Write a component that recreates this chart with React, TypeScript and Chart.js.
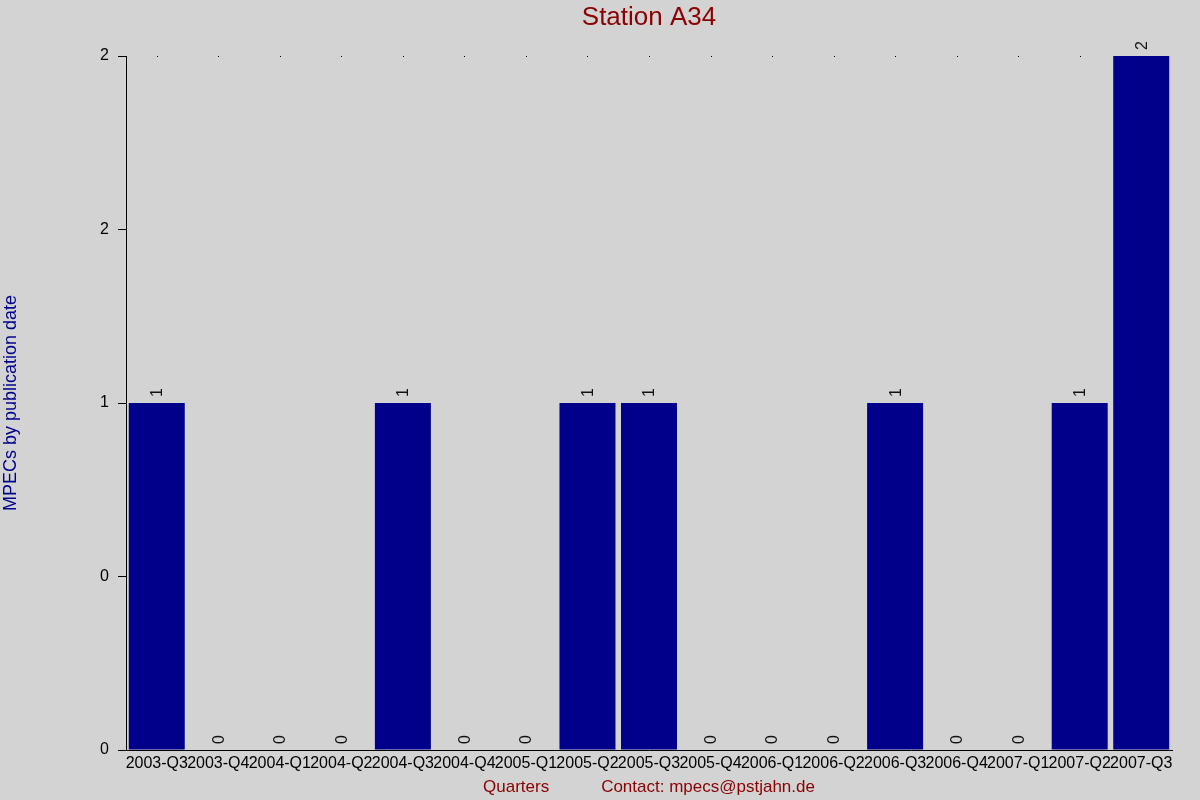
import { useEffect, useRef } from 'react';
import { Chart, registerables } from 'chart.js';

Chart.register(...registerables);

const QUARTERS = [
  '2003-Q3', '2003-Q4', '2004-Q1', '2004-Q2', '2004-Q3', '2004-Q4',
  '2005-Q1', '2005-Q2', '2005-Q3', '2005-Q4', '2006-Q1', '2006-Q2',
  '2006-Q3', '2006-Q4', '2007-Q1', '2007-Q2', '2007-Q3',
];
const MPEC_COUNTS = [1, 0, 0, 0, 1, 0, 0, 1, 1, 0, 0, 0, 1, 0, 0, 1, 2];
const Y_TICK_VALUES = [0, 0.5, 1, 1.5, 2];
const Y_TICK_LABELS = ['0', '0', '1', '2', '2'];

const FONT = '"Liberation Sans", Arial, sans-serif';

// title centred over the plot, value labels written sideways above each bar,
// and the little dots along the top edge
const barLabels = {
  id: 'barLabels',
  afterDatasetsDraw(chart: Chart) {
    const { ctx, chartArea } = chart;
    const meta = chart.getDatasetMeta(0);
    ctx.save();

    ctx.font = `26px ${FONT}`;
    ctx.fillStyle = '#8b0000';
    ctx.textAlign = 'center';
    ctx.textBaseline = 'middle';
    ctx.fillText('Station A34', (chartArea.left + chartArea.right) / 2, 18);

    ctx.fillStyle = '#000';
    meta.data.forEach((bar: any) => {
      ctx.fillRect(Math.round(bar.x), chartArea.top, 1, 1);
    });

    ctx.font = `16px ${FONT}`;
    ctx.fillStyle = '#111';
    ctx.textAlign = 'left';
    ctx.textBaseline = 'middle';
    meta.data.forEach((bar: any, i: number) => {
      ctx.save();
      ctx.translate(bar.x + 1, bar.y - 6);
      ctx.rotate(-Math.PI / 2);
      ctx.fillText(String(MPEC_COUNTS[i]), 0, 0);
      ctx.restore();
    });
    ctx.restore();
  },
};

export default function App() {
  const chartRef = useRef<HTMLCanvasElement>(null);

  useEffect(() => {
    if (!chartRef.current) return;
    const chart = new Chart(chartRef.current, {
      type: 'bar',
      data: {
        labels: QUARTERS,
        datasets: [
          {
            data: MPEC_COUNTS,
            backgroundColor: '#00008b',
            borderWidth: 0,
            barPercentage: 0.91,
            categoryPercentage: 1,
          },
        ],
      },
      options: {
        animation: false,
        responsive: true,
        maintainAspectRatio: false,
        layout: { padding: { left: 0, right: 28, top: 56, bottom: 0 } },
        scales: {
          x: {
            grid: { display: false, drawTicks: false },
            border: { display: true, color: '#000', width: 1 },
            ticks: {
              color: '#000',
              font: { family: FONT, size: 16 },
              autoSkip: false,
              maxRotation: 0,
              minRotation: 0,
              padding: 4,
            },
            title: {
              display: true,
              text: 'Quarters           Contact: mpecs@pstjahn.de',
              color: '#8b0000',
              font: { family: FONT, size: 17 },
              padding: { top: 0, bottom: 2 },
            },
            afterFit: (scale: any) => {
              scale.height = 50;
            },
          },
          y: {
            min: 0,
            max: 2,
            afterBuildTicks: (scale: any) => {
              scale.ticks = Y_TICK_VALUES.map((v) => ({ value: v }));
            },
            grid: {
              display: true,
              drawOnChartArea: false,
              drawTicks: true,
              tickLength: 8,
              color: '#000',
            },
            border: { display: true, color: '#000', width: 1 },
            ticks: {
              color: '#000',
              font: { family: FONT, size: 16 },
              padding: 9,
              callback: (_v: any, i: number) => Y_TICK_LABELS[i],
            },
            title: {
              display: true,
              text: 'MPECs by publication date',
              color: '#00008b',
              font: { family: FONT, size: 18 },
              padding: { top: 0, bottom: 0 },
            },
            afterFit: (scale: any) => {
              scale.width = 126;
            },
          },
        },
        plugins: {
          legend: { display: false },
          tooltip: { enabled: false },
          title: { display: false },
        },
      },
      plugins: [barLabels],
    });

    return () => {
      chart.destroy();
    };
  }, []);

  return (
    <div
      style={{
        position: 'fixed',
        left: 0,
        top: 0,
        width: 1200,
        height: 800,
        background: '#d3d3d3',
      }}
    >
      <canvas ref={chartRef} />
    </div>
  );
}
